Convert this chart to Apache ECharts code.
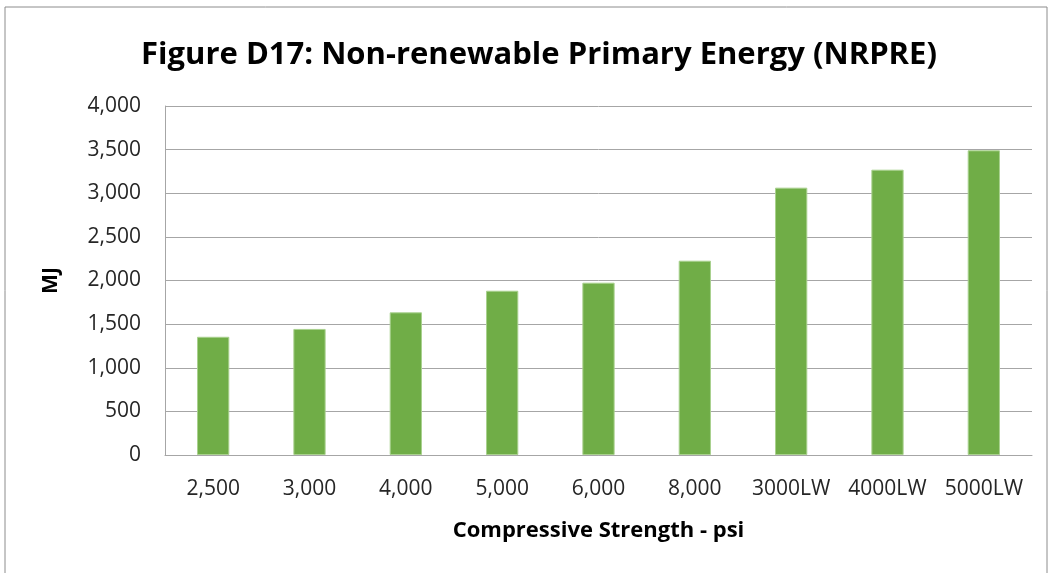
<!DOCTYPE html>
<html>
<head>
<meta charset="utf-8">
<script src="https://cdn.jsdelivr.net/npm/echarts@6/dist/echarts.min.js"></script>
<style>
html,body{margin:0;padding:0;background:#fff;}
#chart{width:1052px;height:573px;}
</style>
</head>
<body>
<div id="chart"></div>
<script>
const categories = ['2,500','3,000','4,000','5,000','6,000','8,000','3000LW','4000LW','5000LW'];
const nrpreValues = [1355, 1445, 1635, 1883, 1975, 2227, 3064, 3270, 3492];
const titleText = 'Figure D17: Non-renewable Primary Energy (NRPRE)';
const yAxisName = 'MJ';
const xAxisName = 'Compressive Strength - psi';

const chart = echarts.init(document.getElementById('chart'));
const font = '"Open Sans", sans-serif';
chart.setOption({
  animation: false,
  backgroundColor: '#fff',
  title: {
    text: titleText,
    left: 534, top: 35, textAlign: 'center',
    textStyle: {fontFamily: font, fontWeight: 'bold', fontSize: 31, color: '#000'}
  },
  graphic: [{
    type: 'rect', shape: {x: 5, y: 7, width: 1042, height: 600},
    style: {fill: 'none', stroke: '#8c8c8c', lineWidth: 1}, silent: true
  }],
  grid: {left: 165, right: 20, top: 106, bottom: 118},
  xAxis: {
    type: 'category', data: categories,
    name: xAxisName, nameLocation: 'middle', nameGap: 65,
    nameTextStyle: {fontFamily: font, fontWeight: 'bold', fontSize: 22, color: '#000'},
    axisLine: {lineStyle: {color: '#a6a6a6', width: 1}},
    axisTick: {show: false},
    axisLabel: {fontFamily: font, fontSize: 21, color: '#262626', margin: 24, interval: 0}
  },
  yAxis: {
    type: 'value', min: 0, max: 4000, interval: 500,
    name: yAxisName, nameLocation: 'middle', nameGap: 103, nameRotate: 90,
    nameTextStyle: {fontFamily: font, fontWeight: 'bold', fontSize: 21, color: '#000'},
    axisLine: {show: true, lineStyle: {color: '#a6a6a6', width: 1}},
    axisTick: {show: false},
    splitLine: {lineStyle: {color: '#a6a6a6', width: 1}},
    axisLabel: {fontFamily: font, fontSize: 21, color: '#262626', margin: 24,
      formatter: v => v.toLocaleString('en-US')}
  },
  series: [{
    type: 'bar', data: nrpreValues, barWidth: '33.5%',
    itemStyle: {color: '#70ad47', borderColor: '#a9d18e', borderWidth: 1}
  }]
});
</script>
</body>
</html>
